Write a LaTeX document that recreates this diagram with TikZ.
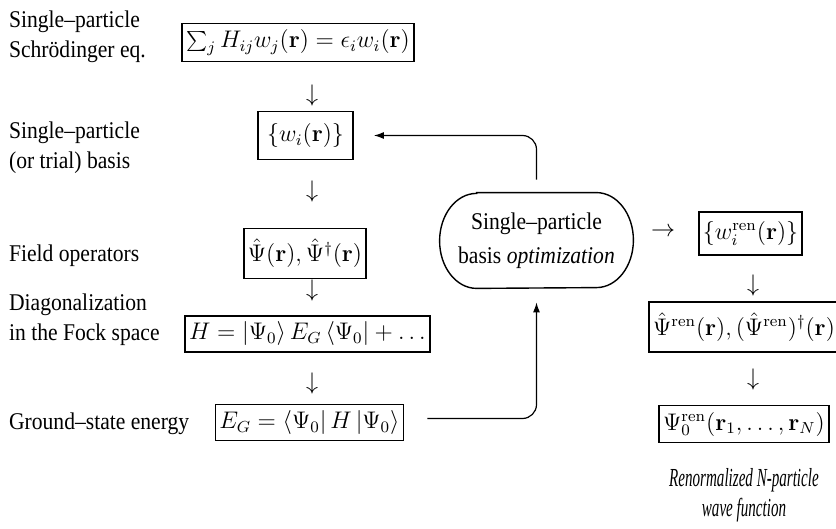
\documentclass[tikz,border=0pt]{standalone}
\usepackage[no-math]{fontspec}
\setmainfont{Liberation Serif}[FakeStretch=0.9]
\newfontfamily\capfont{Liberation Serif}[FakeStretch=0.58]
\usetikzlibrary{arrows.meta,calc}
\tikzset{
  lbl/.style={anchor=west,align=left,font=\fontsize{12}{15}\selectfont},
  eqbox/.style={draw,line width=0.9pt,inner xsep=2pt,inner ysep=3pt,font=\fontsize{12}{15}\selectfont},
  glyph/.style={inner sep=0pt,font=\fontsize{12}{15}\selectfont},
  link/.style={line width=0.6pt,rounded corners=7pt,-{Latex[length=5pt,width=3.5pt]}}
}
\begin{document}
\begin{tikzpicture}[x=0.5pt,y=-0.5pt]
  \useasboundingbox (0,0) rectangle (836,529);
  % left column: labels
  \node[lbl] (labsch) at (2,37) {Single--particle\\Schrödinger eq.};
  \node[lbl] (labbasis) at (2,148) {Single--particle\\(or trial) basis};
  \node[lbl] (labfield) at (2,256) {Field operators};
  \node[lbl] (labdiag) at (2,320) {Diagonalization\\in the Fock space};
  \node[lbl] (labgs) at (2,424) {Ground--state energy};
  % left column: boxes
  \node[eqbox,minimum width=115pt,minimum height=17.5pt] (sch) at (298,42.5)
    {$\sum_j H_{ij}w_j(\mathbf{r})=\epsilon_i w_i(\mathbf{r})$};
  \node[eqbox,minimum width=47.5pt,minimum height=24pt] (basis) at (305.5,135.5)
    {$\{w_i(\mathbf{r})\}$};
  \node[eqbox,minimum width=56pt,minimum height=25pt] (psi) at (305,253.5)
    {$\hat\Psi(\mathbf{r}),\hat\Psi^\dagger(\mathbf{r})$};
  \node[eqbox,minimum width=114.5pt,minimum height=17pt] (ham) at (307.5,334)
    {$H=\left|\Psi_0\right\rangle E_G\left\langle\Psi_0\right|+\ldots$};
  \node[eqbox,minimum width=88.5pt,minimum height=16pt] (egs) at (309.5,422.5)
    {$E_G=\left\langle\Psi_0\right|H\left|\Psi_0\right\rangle$};
  \node[glyph] (d1) at (312,96) {$\downarrow$};
  \node[glyph] (d2) at (312,192) {$\downarrow$};
  \node[glyph] (d3) at (312,291) {$\downarrow$};
  \node[glyph] (d4) at (312,384) {$\downarrow$};
  % optimization
  \node[minimum width=96.5pt,minimum height=47.5pt,align=center,
    font=\fontsize{12}{17}\selectfont] (opt) at (536.5,240.5)
    {Single--particle\\basis \textit{optimization}};
  \draw[line width=0.7pt] ($(opt.north west)+(37,0)$) -- ($(opt.north east)+(-37,0)$)
    arc[start angle=-90,end angle=90,x radius=37,y radius=47.5]
    -- ($(opt.south west)+(37,0)$)
    arc[start angle=90,end angle=270,x radius=37,y radius=47.5] -- cycle;
  \draw[link] ($(opt.north)+(0,-13)$) |- ($(basis.east)+(20,0)$);
  \draw[link] ($(egs.east)+(23,-4)$) -| ($(opt.south)+(0,14)$);
  % right column
  \node[glyph] (r1) at (663,232) {$\rightarrow$};
  \node[eqbox,minimum width=51.5pt,minimum height=21.5pt] (wren) at (750.5,233.5)
    {$\{w_i^{\mathrm{ren}}(\mathbf{r})\}$};
  \node[eqbox,minimum width=92.5pt,minimum height=25pt] (psiren) at (744,327)
    {$\hat\Psi^{\mathrm{ren}}(\mathbf{r}),(\hat\Psi^{\mathrm{ren}})^\dagger(\mathbf{r})$};
  \node[eqbox,minimum width=81pt,minimum height=18.5pt] (psi0) at (744,424)
    {$\Psi_0^{\mathrm{ren}}(\mathbf{r}_1,\ldots,\mathbf{r}_N)$};
  \node[glyph] (d5) at (753,286) {$\downarrow$};
  \node[glyph] (d6) at (753,380) {$\downarrow$};
  \node[align=center,font=\capfont\fontsize{13}{15}\itshape] (cap) at (744,495)
    {Renormalized N-particle\\wave function};
\end{tikzpicture}
\end{document}
